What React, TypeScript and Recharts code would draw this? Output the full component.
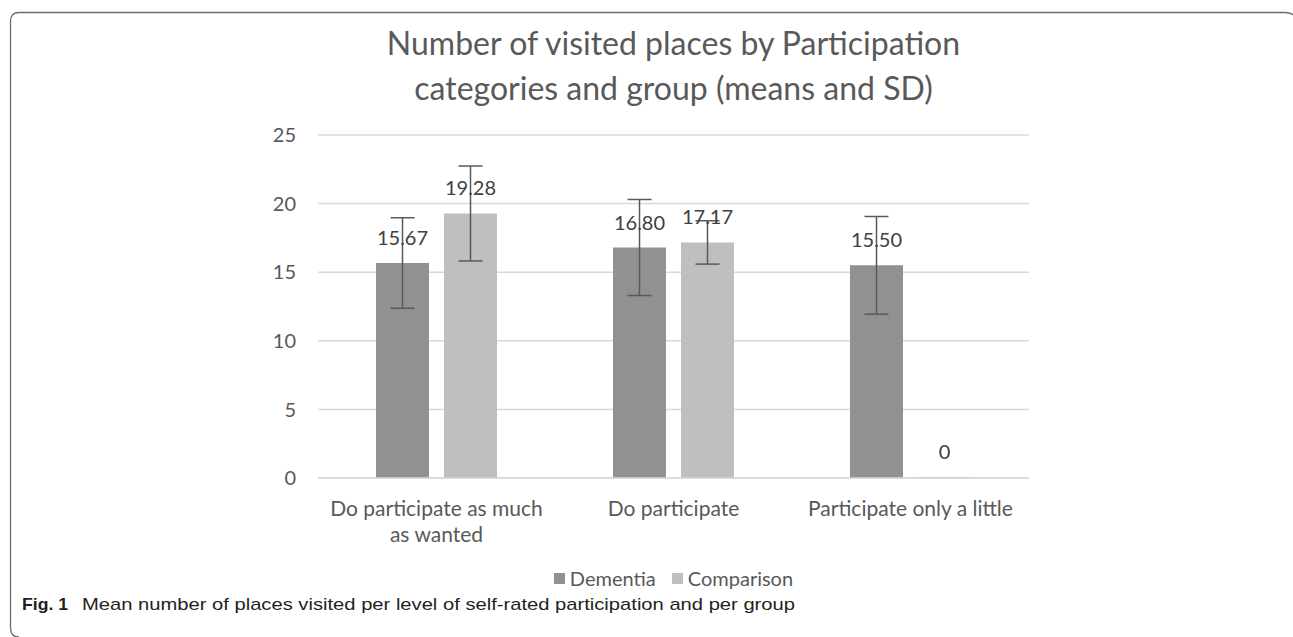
import React from "react"
import { BarChart, Bar, XAxis, YAxis, CartesianGrid, ErrorBar, LabelList, Legend } from "recharts"

const categories = ["Do participate as much as wanted", "Do participate", "Participate only a little"]
const categoryLines = [["Do participate as much", "as wanted"], ["Do participate"], ["Participate only a little"]]
const dementia = [15.67, 16.8, 15.5]
const dementiaSd = [3.3, 3.5, 3.56]
const comparison = [19.28, 17.17, 0]
const comparisonSd = [3.46, 1.58, null]
const yTicks = [0, 5, 10, 15, 20, 25]

const FONT = "Lato, 'Open Sans', sans-serif"
const TEXT = "#595959"

const data = categories.map((name, i) => ({
  name,
  dementia: dementia[i],
  dementiaSd: dementiaSd[i],
  comparison: comparison[i],
  comparisonSd: comparisonSd[i],
}))

const fmt = (v: any) => (Number(v) === 0 ? "0" : Number(v).toFixed(2))

// draw value labels ourselves so the zero bar still gets its "0"
function ValueLabel(props: any) {
  const { x, y, width, value } = props
  if (value === undefined || value === null) return null
  return (
    <text x={Number(x) + Number(width) / 2} y={Number(y) - 18} textAnchor="middle" fill="#404040" fontSize={20} fontFamily={FONT}>
      {fmt(value)}
    </text>
  )
}

function CategoryTick(props: any) {
  const { x, y, index } = props
  const lines = categoryLines[index] || []
  return (
    <text x={x} y={y} textAnchor="middle" fill={TEXT} fontSize={21} fontFamily={FONT}>
      {lines.map((l, i) => (
        <tspan key={i} x={x} dy={i === 0 ? 30 : 26}>
          {l}
        </tspan>
      ))}
    </text>
  )
}

function LegendBox() {
  const items = [
    { label: "Dementia", color: "#919191" },
    { label: "Comparison", color: "#bfbfbf" },
  ]
  return (
    <div style={{ display: "flex", justifyContent: "center", gap: 16, fontFamily: FONT, fontSize: 20, color: TEXT }}>
      {items.map((it) => (
        <span key={it.label} style={{ display: "flex", alignItems: "center" }}>
          <span style={{ width: 11, height: 11, background: it.color, marginRight: 5, display: "inline-block" }} />
          {it.label}
        </span>
      ))}
    </div>
  )
}

export default function App() {
  return (
    <div style={{ position: "absolute", left: 0, top: 0, width: 1293, height: 637, background: "#fff", overflow: "hidden" }}>
      <svg width={1293} height={637} style={{ position: "absolute", left: 0, top: 0 }}>
        <path
          d="M 19 637 Q 10.5 637 10.5 628 L 10.5 21 Q 10.5 12.5 19 12.5 L 1285 12.5 Q 1293 12.5 1296 18"
          fill="none"
          stroke="#6d6d6d"
          strokeWidth={1.3}
        />
        <text x={22} y={610} fontFamily="'Liberation Sans', sans-serif" fontWeight="bold" fontSize={17} fill="#231f20" textLength={46} lengthAdjust="spacingAndGlyphs">
          Fig. 1
        </text>
        <text x={82} y={610} fontFamily="'Liberation Sans', sans-serif" fontSize={17} fill="#231f20" textLength={713} lengthAdjust="spacingAndGlyphs">
          Mean number of places visited per level of self-rated participation and per group
        </text>
      </svg>
      <div
        style={{
          position: "absolute",
          left: 0,
          width: 1347,
          top: 20,
          textAlign: "center",
          fontFamily: FONT,
          fontSize: 32,
          lineHeight: "45px",
          color: TEXT,
        }}
      >
        Number of visited places by Participation
        <br />
        categories and group (means and SD)
      </div>
      <div style={{ position: "absolute", left: 0, top: 0 }}>
        <BarChart
          width={1293}
          height={637}
          data={data}
          margin={{ top: 135, right: 264, bottom: 77, left: 0 }}
          barSize={53}
          barGap={15}
        >
          <CartesianGrid vertical={false} stroke="#d9d9d9" strokeWidth={1.5} />
          <XAxis
            dataKey="name"
            axisLine={{ stroke: "#d9d9d9", strokeWidth: 1.5 }}
            tickLine={false}
            height={60}
            interval={0}
            tick={<CategoryTick />}
          />
          <YAxis
            width={318}
            domain={[0, 25]}
            ticks={yTicks}
            axisLine={false}
            tickLine={false}
            tickMargin={16}
            tick={{ fill: TEXT, fontSize: 20, fontFamily: FONT }}
          />
          <Legend
            verticalAlign="bottom"
            content={<LegendBox />}
            wrapperStyle={{ top: 566, bottom: "auto", left: 0, width: 1347, height: 22 }}
          />
          <Bar dataKey="dementia" name="Dementia" fill="#919191" minPointSize={1} isAnimationActive={false}>
            <ErrorBar dataKey="dementiaSd" width={12} stroke="#595959" strokeWidth={1.5} direction="y" />
            <LabelList dataKey="dementia" content={<ValueLabel />} />
          </Bar>
          <Bar dataKey="comparison" name="Comparison" fill="#bfbfbf" minPointSize={1} isAnimationActive={false}>
            <ErrorBar dataKey="comparisonSd" width={12} stroke="#595959" strokeWidth={1.5} direction="y" />
            <LabelList dataKey="comparison" content={<ValueLabel />} />
          </Bar>
        </BarChart>
      </div>
    </div>
  )
}
